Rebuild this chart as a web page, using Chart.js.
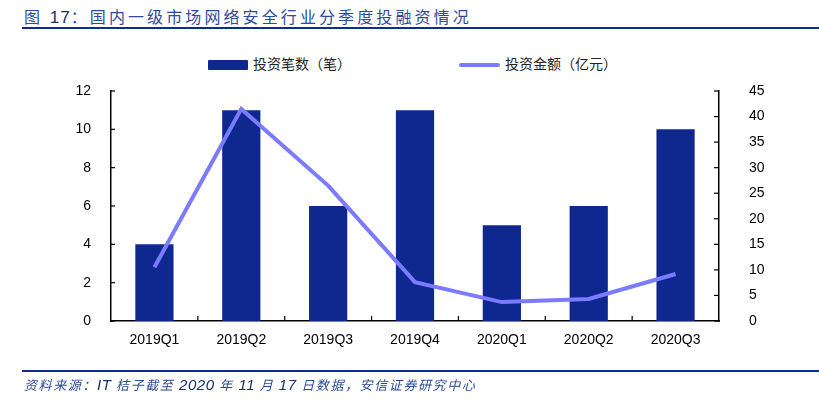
<!DOCTYPE html>
<html>
<head>
<meta charset="utf-8">
<script src="https://cdn.jsdelivr.net/npm/chart.js@4"></script>
<style>
  html, body { margin: 0; padding: 0; background: #fff; }
  #wrap { position: relative; width: 819px; height: 403px; overflow: hidden; }
  #title { position: absolute; left: 24px; top: 4px; font-family: "Noto Sans CJK SC", sans-serif;
           font-size: 16px; letter-spacing: 3.1px; color: #2c4a9a; white-space: nowrap; }
  #title b { font-family: "Liberation Sans", sans-serif; font-weight: normal; color: #1a2f6e; font-size: 17px; letter-spacing: 1px; }
  #topline { position: absolute; left: 22px; right: 0; top: 27px; height: 2px; background: #0a2f8a; }
  #botline { position: absolute; left: 22px; right: 0; top: 370px; height: 2px; background: #0a2f8a; }
  #source { position: absolute; left: 24px; top: 375px; font-family: "Noto Sans CJK SC", sans-serif;
            font-size: 13px; font-style: italic; color: #2c4a9a; white-space: nowrap; letter-spacing: 1.6px; }
  #source span { font-family: "Liberation Sans", sans-serif; font-size: 15px; color: #1a2f6e; letter-spacing: 0.6px; }
  .leg { position: absolute; top: 54px; font-family: "Noto Sans CJK SC", sans-serif; font-size: 14px;
         color: #222; white-space: nowrap; line-height: 18px; }
  .leg i { display: inline-block; vertical-align: middle; margin-right: 5px; }
  canvas { position: absolute; left: 0; top: 0; }
</style>
</head>
<body>
<div id="wrap">
  <div id="title">图 <b>17</b>：国内一级市场网络安全行业分季度投融资情况</div>
  <div id="topline"></div>
  <div class="leg" style="left:208px"><i style="width:40px;height:10px;background:#0f2890;border-radius:1px"></i>投资笔数（笔）</div>
  <div class="leg" style="left:459px"><i style="width:41px;height:4px;background:#7b7bff;border-radius:2px"></i>投资金额（亿元）</div>
  <canvas id="myChart" width="819" height="403"></canvas>
  <div id="botline"></div>
  <div id="source">资料来源：<span>IT</span> 桔子截至 <span>2020</span> 年 <span>11</span> 月 <span>17</span> 日数据，安信证券研究中心</div>
</div>
<script>
// 분기별 데이터
var quarters = ["2019Q1", "2019Q2", "2019Q3", "2019Q4", "2020Q1", "2020Q2", "2020Q3"];
var dealCount = [4, 11, 6, 11, 5, 6, 10];           // 投资笔数（笔）
var dealAmount = [10.5, 41.5, 26.5, 7.6, 3.7, 4.3, 9.2]; // 投资金额（亿元）
var leftTicks = [0, 2, 4, 6, 8, 10, 12];
var rightTicks = [0, 5, 10, 15, 20, 25, 30, 35, 40, 45];

var tickFont = { family: "'Liberation Sans', Arial, sans-serif", size: 14 };

// 안쪽으로 향하는 눈금 그리기
var innerTicks = {
  id: "innerTicks",
  afterDraw: function(chart) {
    var c = chart.ctx, a = chart.chartArea;
    c.save();
    c.strokeStyle = "#000";
    c.lineWidth = 1.2;
    var x = chart.scales.x;
    for (var i = 1; i < quarters.length; i++) {
      var px = (x.getPixelForValue(i - 1) + x.getPixelForValue(i)) / 2;
      c.beginPath(); c.moveTo(px, a.bottom); c.lineTo(px, a.bottom - 5); c.stroke();
    }
    var yl = chart.scales.y;
    leftTicks.forEach(function(v) {
      var py = yl.getPixelForValue(v);
      c.beginPath(); c.moveTo(a.left, py); c.lineTo(a.left + 4, py); c.stroke();
    });
    var yr = chart.scales.y1;
    rightTicks.forEach(function(v) {
      var py = yr.getPixelForValue(v);
      c.beginPath(); c.moveTo(a.right, py); c.lineTo(a.right - 5, py); c.stroke();
    });
    c.restore();
  }
};

var ctx = document.getElementById("myChart");
var myChart = new Chart(ctx, {
  type: "bar",
  data: {
    labels: quarters,
    datasets: [
      {
        type: "line",
        label: "投资金额（亿元）",
        data: dealAmount,
        yAxisID: "y1",
        borderColor: "#7b7bff",
        backgroundColor: "#7b7bff",
        borderWidth: 4,
        pointRadius: 0,
        tension: 0,
        order: 0
      },
      {
        label: "投资笔数（笔）",
        data: dealCount,
        yAxisID: "y",
        backgroundColor: "#0f2890",
        barPercentage: 0.44,
        categoryPercentage: 1,
        order: 1
      }
    ]
  },
  options: {
    responsive: false,
    animation: false,
    devicePixelRatio: 1,
    layout: { padding: { top: 91, left: 0, right: 0, bottom: 0 } },
    plugins: { legend: { display: false }, tooltip: { enabled: false } },
    scales: {
      x: {
        grid: { display: false },
        border: { display: true, color: "#000", width: 1.5 },
        ticks: { color: "#000", font: tickFont, padding: 3, maxRotation: 0 },
        afterFit: function(s) { s.height = 403 - 321; }
      },
      y: {
        position: "left",
        min: 0, max: 12,
        afterBuildTicks: function(s) { s.ticks = leftTicks.map(function(v) { return { value: v }; }); },
        grid: { display: false },
        border: { display: true, color: "#000", width: 1.5 },
        ticks: { color: "#000", font: tickFont, padding: 12 },
        afterFit: function(s) { s.width = 111; }
      },
      y1: {
        position: "right",
        min: 0, max: 45,
        afterBuildTicks: function(s) { s.ticks = rightTicks.map(function(v) { return { value: v }; }); },
        grid: { display: false },
        border: { display: true, color: "#000", width: 1.5 },
        ticks: { color: "#000", font: tickFont, padding: 22 },
        afterFit: function(s) { s.width = 819 - 719; }
      }
    }
  },
  plugins: [innerTicks]
});
</script>
</body>
</html>
